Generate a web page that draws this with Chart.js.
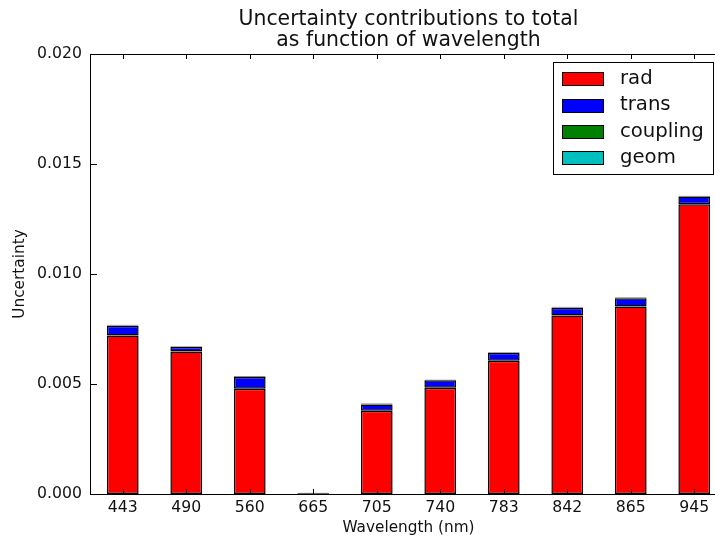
<!DOCTYPE html>
<html>
<head>
<meta charset="utf-8">
<title>Uncertainty contributions</title>
<script src="https://cdn.jsdelivr.net/npm/chart.js@4.4.1/dist/chart.umd.min.js"></script>
<style>
  html, body { margin: 0; padding: 0; background: #fff; overflow: hidden; }
</style>
</head>
<body>
<canvas id="uncChart" width="730" height="538"></canvas>
<script>
// wavelengths (nm) and the stacked uncertainty contributions per band
const wavelengths = ['443', '490', '560', '665', '705', '740', '783', '842', '865', '945'];
const rad      = [0.00720, 0.00648, 0.00478, 0.00003, 0.00378, 0.00483, 0.00606, 0.00811, 0.00852, 0.01317];
const trans    = [0.00045, 0.00020, 0.00054, 0.00001, 0.00029, 0.00034, 0.00036, 0.00036, 0.00038, 0.00035];
const coupling = [0.00002, 0.00002, 0.00002, 0.00001, 0.00002, 0.00002, 0.00002, 0.00002, 0.00002, 0.00002];
const geom     = [0.00002, 0.00002, 0.00002, 0.00001, 0.00002, 0.00002, 0.00002, 0.00002, 0.00002, 0.00002];
const yTicks   = [0, 0.005, 0.010, 0.015, 0.020];

const FONT = 'DejaVu Sans';
const INK = '#111';

function serie(label, data, color) {
  return {
    label: label,
    data: data,
    backgroundColor: color,
    borderColor: '#000',
    borderWidth: 1.5,
    borderSkipped: false,
    barPercentage: 0.5,
    categoryPercentage: 1.0
  };
}

// matplotlib-like frame, inward ticks, title and boxed legend
const mplLook = {
  id: 'mplLook',
  afterDatasetsDraw(chart) {
    const { ctx, chartArea: a, scales } = chart;
    const L = Math.round(a.left), R = Math.round(a.right);
    const T = Math.round(a.top), B = Math.round(a.bottom);
    ctx.save();
    ctx.strokeStyle = '#000';
    ctx.lineWidth = 1;
    ctx.strokeRect(L - 0.5, T + 0.5, R - L, B - T);
    ctx.beginPath();
    scales.x.ticks.forEach((t, i) => {
      const x = Math.round(scales.x.getPixelForTick(i)) + 0.5;
      ctx.moveTo(x, B); ctx.lineTo(x, B - 5);
      ctx.moveTo(x, T); ctx.lineTo(x, T + 5);
    });
    scales.y.ticks.forEach((t, i) => {
      const y = Math.round(scales.y.getPixelForTick(i)) + 0.5;
      ctx.moveTo(L, y); ctx.lineTo(L + 6, y);
      ctx.moveTo(R, y); ctx.lineTo(R - 6, y);
    });
    ctx.stroke();
    ctx.restore();
  },
  afterDraw(chart) {
    const { ctx, chartArea: a } = chart;
    ctx.save();
    // title
    ctx.fillStyle = INK;
    ctx.font = '20.4px "' + FONT + '"';
    ctx.textAlign = 'center';
    ctx.textBaseline = 'middle';
    const cx = (a.left + a.right) / 2;
    ctx.fillText('Uncertainty contributions to total', cx, 20);
    ctx.fillText('as function of wavelength', cx, 41);

    // legend box
    ctx.fillStyle = '#fff';
    ctx.fillRect(553.5, 62.5, 160, 112);
    ctx.strokeStyle = '#000';
    ctx.lineWidth = 1;
    ctx.strokeRect(553.5, 62.5, 160, 112);
    ctx.font = '19.7px "' + FONT + '"';
    ctx.textAlign = 'left';
    chart.data.datasets.forEach((ds, i) => {
      const cy = 78.7 + i * 26.4;
      ctx.fillStyle = ds.backgroundColor;
      ctx.fillRect(562, Math.round(cy - 6.5), 41, 13);
      ctx.strokeRect(562.5, Math.round(cy - 6.5) + 0.5, 41, 13);
      ctx.fillStyle = INK;
      ctx.fillText(ds.label, 620, cy);
    });
    ctx.restore();
  }
};

new Chart(document.getElementById('uncChart'), {
  type: 'bar',
  data: {
    labels: wavelengths,
    datasets: [
      serie('rad', rad, '#ff0000'),
      serie('trans', trans, '#0000ff'),
      serie('coupling', coupling, '#008000'),
      serie('geom', geom, '#00bfbf')
    ]
  },
  options: {
    responsive: false,
    animation: false,
    devicePixelRatio: 1,
    layout: { padding: { top: 54, right: 4, bottom: 0, left: 0 } },
    plugins: {
      legend: { display: false },
      title: { display: false },
      tooltip: { enabled: false }
    },
    scales: {
      x: {
        stacked: true,
        grid: { display: false, drawTicks: false },
        border: { display: false },
        ticks: { color: INK, font: { family: FONT, size: 15.7 }, padding: 5, maxRotation: 0 },
        title: {
          display: true, text: 'Wavelength (nm)', color: INK,
          font: { family: FONT, size: 15.3 }, padding: { top: 0, bottom: 1 }
        },
        afterFit(s) { s.height = 44; }
      },
      y: {
        stacked: true,
        min: yTicks[0],
        max: yTicks[yTicks.length - 1],
        grid: { display: false, drawTicks: false },
        border: { display: false },
        afterBuildTicks(s) { s.ticks = yTicks.map(v => ({ value: v })); },
        ticks: {
          color: INK, font: { family: FONT, size: 15.7 }, padding: 9,
          callback: v => v.toFixed(3)
        },
        title: {
          display: true, text: 'Uncertainty', color: INK,
          font: { family: FONT, size: 15.3 }, padding: { top: 11, bottom: 0 }
        },
        afterFit(s) { s.width = 91; }
      }
    }
  },
  plugins: [mplLook]
});
</script>
</body>
</html>
